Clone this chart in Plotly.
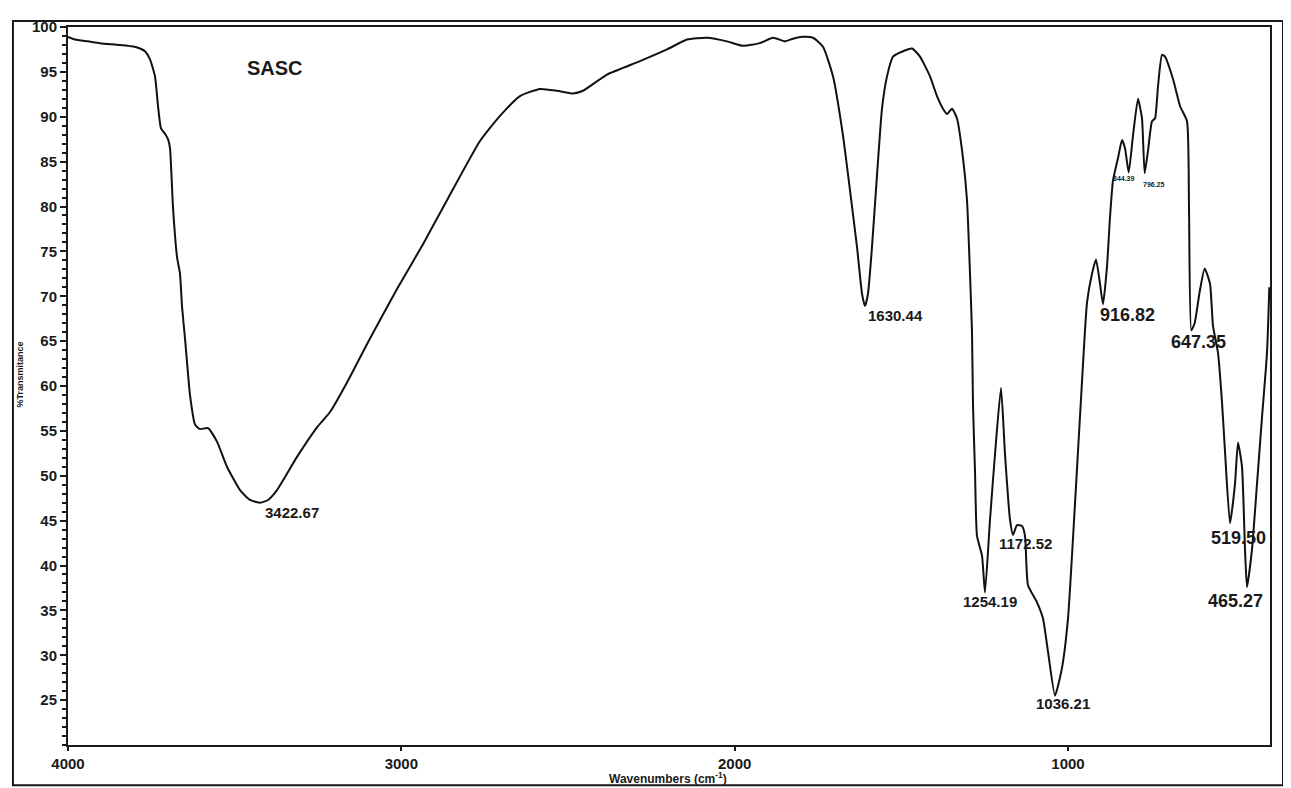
import plotly.graph_objects as go

# Spectrum (wavenumber cm^-1, %T)
wavenumber = [4000, 3979, 3940, 3904, 3844, 3800, 3784, 3769, 3754, 3739, 3730, 3721, 3709, 3700,
              3694, 3685, 3673, 3664, 3658, 3649, 3634, 3619, 3604, 3580, 3553, 3523, 3484, 3454,
              3423, 3400, 3373, 3313, 3253, 3214, 3163, 3094, 3013, 2935, 2863, 2764, 2704, 2644,
              2584, 2533, 2485, 2455, 2383, 2284, 2203, 2143, 2083, 2023, 1975, 1924, 1885, 1849,
              1825, 1795, 1765, 1735, 1705, 1675, 1654, 1633, 1618, 1609, 1600, 1588, 1573, 1558,
              1543, 1525, 1495, 1468, 1444, 1414, 1393, 1375, 1363, 1348, 1333, 1315, 1303, 1294,
              1288, 1285, 1279, 1273, 1258, 1249, 1234, 1219, 1201, 1189, 1174, 1165, 1153, 1138,
              1129, 1120, 1093, 1075, 1060, 1039, 1018, 1000, 979, 958, 943, 928, 916, 904, 895,
              883, 874, 865, 850, 838, 829, 818, 805, 790, 778, 770, 760, 748, 739, 730, 718, 709,
              685, 664, 643, 637, 630, 620, 605, 590, 574, 565, 550, 538, 529, 514, 499, 490, 478,
              469, 463, 448, 433, 418, 403, 396]
transmittance = [98.9, 98.6, 98.4, 98.2, 98.0, 97.8, 97.6, 97.3, 96.4, 94.5, 91.2, 88.7, 88.1, 87.5,
                 86.5, 79.9, 74.4, 72.5, 68.9, 65.3, 59.0, 55.7, 55.2, 55.3, 53.8, 51.0, 48.4, 47.3,
                 47.0, 47.3, 48.4, 52.1, 55.4, 57.1, 60.4, 65.3, 70.8, 75.8, 80.7, 87.3, 90.1, 92.3,
                 93.1, 92.9, 92.6, 92.9, 94.7, 96.2, 97.5, 98.6, 98.8, 98.4, 97.9, 98.2, 98.8, 98.4,
                 98.7, 98.9, 98.8, 97.8, 94.5, 87.9, 81.8, 75.5, 70.3, 68.9, 70.3, 75.5, 83.5, 90.9,
                 94.5, 96.7, 97.3, 97.6, 96.7, 94.5, 92.3, 90.9, 90.3, 90.9, 89.8, 85.4, 80.7, 72.5,
                 66.0, 57.9, 50.5, 43.3, 41.1, 37.0, 45.1, 52.4, 59.8, 52.4, 45.1, 43.4, 44.5, 44.4,
                 43.3, 37.8, 35.9, 34.1, 30.4, 25.5, 28.6, 34.1, 46.9, 60.5, 69.3, 72.5, 74.1, 71.4, 69.1,
                 73.3, 78.8, 82.9, 85.4, 87.4, 86.5, 83.8, 87.9, 92.0, 89.8, 83.7, 86.2, 89.5, 89.8, 93.4, 96.9, 96.7,
                 94.2, 91.2, 89.5, 79.9, 66.2, 67.0, 70.5, 73.1, 71.4, 66.7, 63.7, 58.2, 52.7, 44.7, 49.1, 53.7, 51.0,
                 41.8, 37.6, 41.8, 49.1, 56.5, 63.7, 71.0]

# Peak labels: text, x (cm^-1), y (%T), font size
peak_text = ["3422.67", "1630.44", "1254.19", "1172.52", "1036.21", "916.82", "647.35", "519.50", "465.27", "844.39", "796.25"]
peak_x = [3328, 1519, 1234, 1129, 1015, 823, 610, 490, 499, 832, 742]
peak_y = [45.9, 67.9, 36.0, 42.4, 24.6, 67.9, 64.9, 43.1, 36.0, 83.1, 82.4]
peak_size = [15, 15, 15, 15, 15, 18, 18, 18, 18, 7, 7]

x_ticks = [4000, 3000, 2000, 1000]
y_ticks = [25, 30, 35, 40, 45, 50, 55, 60, 65, 70, 75, 80, 85, 90, 95, 100]

FONT = "Liberation Sans, Arial, sans-serif"
INK = "#1a1a1a"

fig = go.Figure()
fig.add_trace(go.Scatter(x=wavenumber, y=transmittance, mode="lines",
                         line=dict(color="#111111", width=2, shape="spline", smoothing=0.5),
                         hoverinfo="skip", showlegend=False))

annotations = []
for t, x, y, s in zip(peak_text, peak_x, peak_y, peak_size):
    annotations.append(dict(x=x, y=y, xref="x", yref="y", text="<b>" + t + "</b>",
                            showarrow=False, xanchor="center", yanchor="middle",
                            font=dict(family=FONT, size=s, color=INK)))
annotations.append(dict(x=3379, y=95.4, xref="x", yref="y", text="<b>SASC</b>", showarrow=False,
                        xanchor="center", yanchor="middle", font=dict(family=FONT, size=20, color=INK)))
annotations.append(dict(x=0.499, y=-0.046, xref="paper", yref="paper",
                        text="<b>Wavenumbers (cm<sup>-1</sup>)</b>", showarrow=False,
                        xanchor="center", yanchor="middle", font=dict(family=FONT, size=12, color=INK)))
annotations.append(dict(x=-0.04, y=0.516, xref="paper", yref="paper", text="<b>%Transmitance</b>",
                        showarrow=False, textangle=-90, xanchor="center", yanchor="middle",
                        font=dict(family=FONT, size=9, color=INK)))

# The page body adds an 8px offset; the figure is sized to fit the 1291x788 window.
fig.update_layout(
    width=1283, height=780,
    margin=dict(l=60, r=21, t=10, b=43),
    paper_bgcolor="white", plot_bgcolor="white",
    annotations=annotations,
    showlegend=False,
    shapes=[dict(type="rect", xref="paper", yref="paper", x0=-0.0458, x1=1.0108, y0=-0.056, y1=1.0083,
                 line=dict(color=INK, width=2), fillcolor="rgba(0,0,0,0)", layer="below")],
    xaxis=dict(range=[4000, 394], tickmode="array", tickvals=x_ticks, ticktext=["<b>%d</b>" % v for v in x_ticks],
               ticks="outside", ticklen=4, tickwidth=2, tickcolor=INK,
               showline=True, linecolor=INK, linewidth=2, mirror=True,
               showgrid=False, zeroline=False,
               tickfont=dict(family=FONT, size=15, color=INK)),
    yaxis=dict(range=[20, 100], tickmode="array", tickvals=y_ticks, ticktext=["<b>%d</b>" % v for v in y_ticks],
               ticks="outside", ticklen=6, tickwidth=1.5, tickcolor=INK,
               minor=dict(tickmode="linear", tick0=20, dtick=1, ticks="outside", ticklen=4, tickwidth=1.5,
                          tickcolor=INK, showgrid=False),
               showline=True, linecolor=INK, linewidth=2, mirror=True,
               showgrid=False, zeroline=False,
               tickfont=dict(family=FONT, size=15, color=INK)),
)

fig.write_html("out.html")
